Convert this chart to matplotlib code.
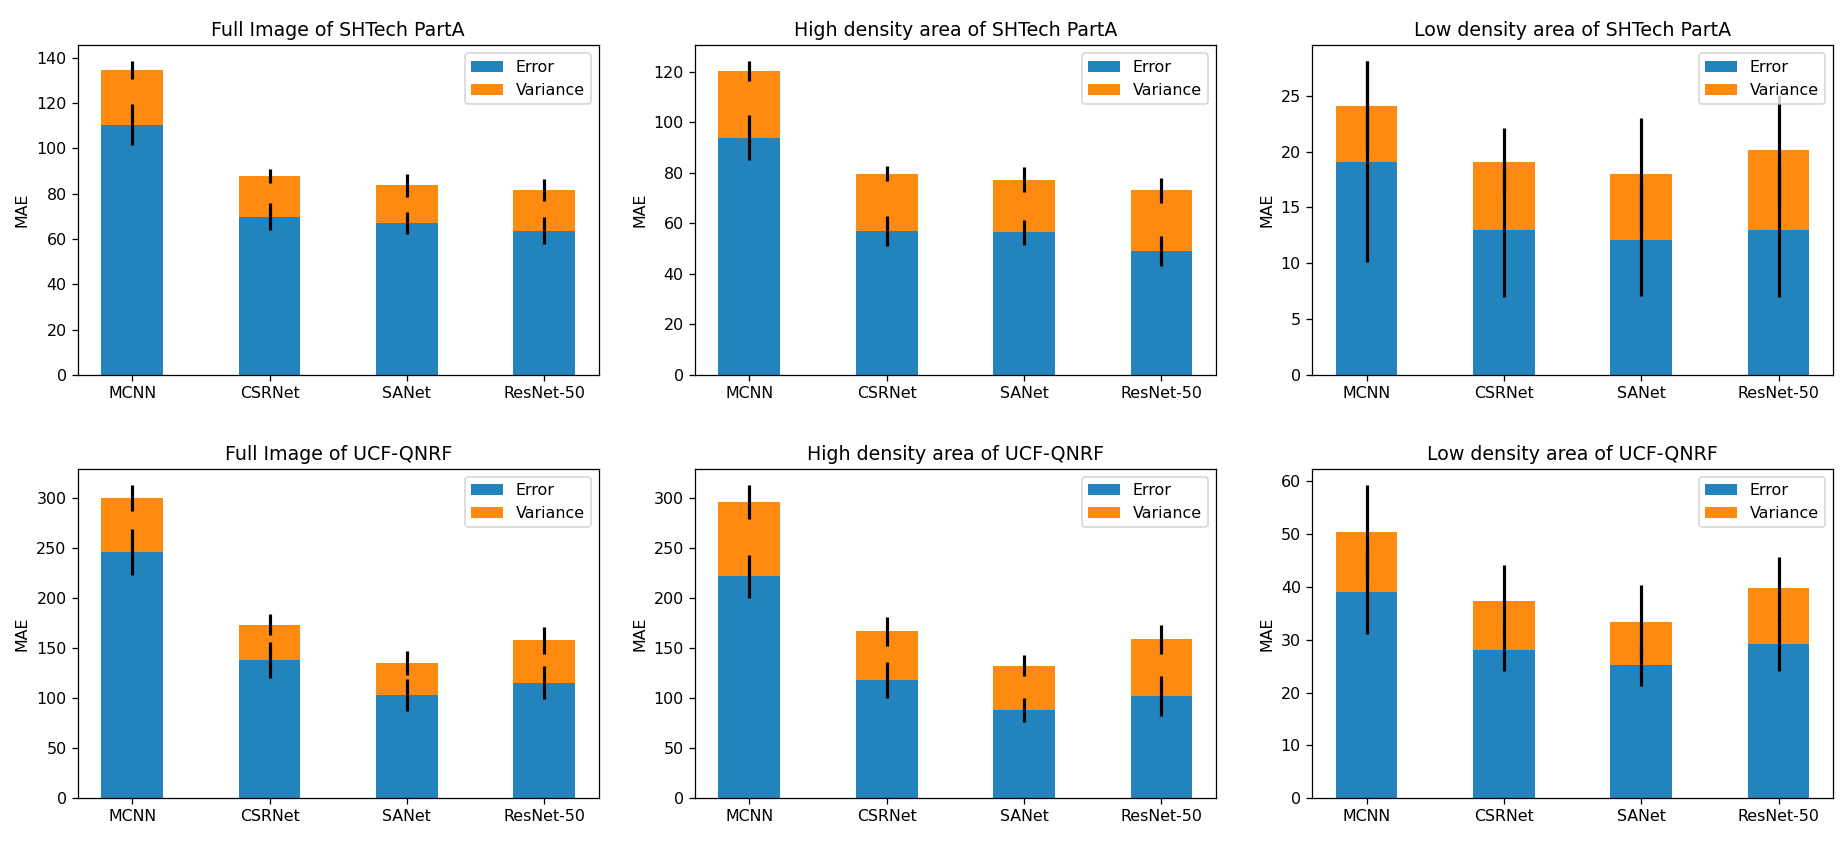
import numpy as np
import matplotlib
matplotlib.use("Agg")
import matplotlib.pyplot as plt

models = ["MCNN", "CSRNet", "SANet", "ResNet-50"]

titles = ["Full Image of SHTech PartA",
          "High density area of SHTech PartA",
          "Low density area of SHTech PartA",
          "Full Image of UCF-QNRF",
          "High density area of UCF-QNRF",
          "Low density area of UCF-QNRF"]

# mean error (blue part) per panel
error = [[110.5, 69.8, 67.0, 63.6],
         [93.8, 57.0, 56.4, 49.0],
         [19.1, 13.0, 12.1, 13.0],
         [245.5, 138.0, 103.5, 115.5],
         [221.6, 118.6, 88.2, 102.0],
         [39.1, 28.0, 25.2, 29.1]]

# variance (orange part, stacked on error)
variance = [[24.0, 18.0, 16.6, 18.0],
            [26.3, 22.5, 20.8, 24.0],
            [5.0, 6.1, 5.9, 7.1],
            [54.5, 35.2, 31.5, 42.3],
            [74.4, 48.4, 44.2, 57.0],
            [11.2, 9.4, 8.2, 10.6]]

error_std = [[9, 6, 5, 6],
             [9, 6, 5, 6],
             [9, 6, 5, 6],
             [23, 17.6, 16, 16.7],
             [21.2, 18, 12.3, 20],
             [8, 4, 3.9, 5]]

variance_std = [[4, 3, 5, 5],
                [4, 3, 5, 5],
                [4, 3, 5, 5],
                [13, 10.3, 12, 13.4],
                [17.3, 14.4, 10.6, 14.5],
                [9, 6.7, 7, 6]]

fig, axes = plt.subplots(2, 3, figsize=(16.21, 7.395), dpi=114)
x = np.arange(len(models))
width = 0.45

for i, ax in enumerate(axes.flat):
    ax.bar(x, error[i], width, yerr=error_std[i], color="#2283bd",
           error_kw=dict(elinewidth=2.0), label="Error")
    ax.bar(x, variance[i], width, bottom=error[i], yerr=variance_std[i], color="#ff8a10",
           error_kw=dict(elinewidth=2.0), label="Variance")
    ax.set_xticks(x)
    ax.set_xticklabels(models)
    ax.set_ylabel("MAE")
    ax.set_title(titles[i])
    ax.legend(loc="upper right")

plt.subplots_adjust(left=0.042, right=0.992, top=0.946, bottom=0.053, wspace=0.184, hspace=0.286)
plt.savefig("out.png")
